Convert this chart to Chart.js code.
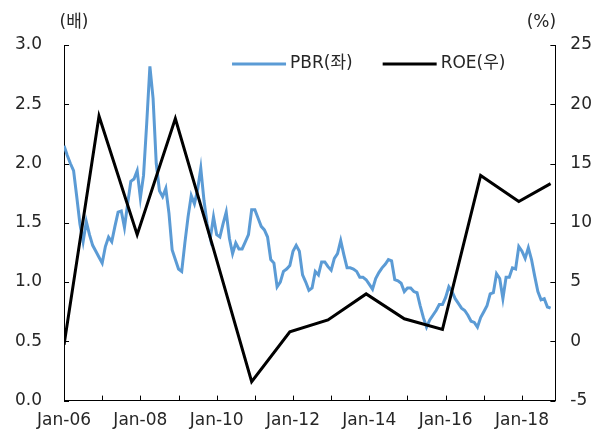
<!DOCTYPE html>
<html>
<head>
<meta charset="utf-8">
<script src="https://cdn.jsdelivr.net/npm/chart.js@4.4.1/dist/chart.umd.min.js"></script>
<style>
  html, body { margin: 0; padding: 0; background: #fff; }
</style>
</head>
<body>
<canvas id="chart" width="596" height="435"></canvas>
<script>
// x = month index, 0 = Jan-06
const pbr = [
  2.15, 2.07, 2.00, 1.94, 1.72, 1.49, 1.34, 1.51, 1.40, 1.31,
  1.26, 1.21, 1.16, 1.30, 1.38, 1.34, 1.47, 1.59, 1.60, 1.46,
  1.66, 1.85, 1.87, 1.94, 1.71, 1.90, 2.34, 2.82, 2.55, 2.00,
  1.77, 1.72, 1.79, 1.58, 1.27, 1.19, 1.11, 1.09, 1.33, 1.55,
  1.73, 1.66, 1.78, 1.96, 1.69, 1.49, 1.37, 1.55, 1.40, 1.38,
  1.49, 1.59, 1.37, 1.24, 1.33, 1.28, 1.28, 1.34, 1.40, 1.61,
  1.61, 1.54, 1.47, 1.44, 1.38, 1.19, 1.16, 0.96, 1.00, 1.09,
  1.11, 1.14, 1.26, 1.31, 1.26, 1.06, 1.00, 0.93, 0.95, 1.09,
  1.06, 1.17, 1.17, 1.13, 1.10, 1.20, 1.24, 1.35, 1.23, 1.12,
  1.12, 1.11, 1.09, 1.04, 1.04, 1.02, 0.98, 0.94, 1.03, 1.08,
  1.12, 1.15, 1.19, 1.18, 1.02, 1.01, 0.99, 0.92, 0.95, 0.95,
  0.92, 0.91, 0.80, 0.70, 0.62, 0.68, 0.72, 0.76, 0.81, 0.81,
  0.87, 0.96, 0.92, 0.86, 0.82, 0.78, 0.76, 0.72, 0.67, 0.66,
  0.62, 0.70, 0.75, 0.80, 0.90, 0.91, 1.07, 1.03, 0.86, 1.04,
  1.04, 1.12, 1.11, 1.30, 1.26, 1.20, 1.29, 1.19, 1.05, 0.92,
  0.85, 0.86, 0.79, 0.78
];

const roeMonths = [0, 11, 23, 35, 47, 59, 71, 83, 95, 107, 119, 131, 143, 153];
const roe = [-0.3, 19.0, 9.0, 18.8, 7.8, -3.4, 0.8, 1.8, 4.0, 1.9, 1.0, 14.0, 11.8, 13.3];

const tickLabels = ['Jan-06', 'Jan-08', 'Jan-10', 'Jan-12', 'Jan-14', 'Jan-16', 'Jan-18'];
const seriesNames = ['PBR(좌)', 'ROE(우)'];
const unitLeft = '(배)';
const unitRight = '(%)';

const FONT = '"DejaVu Sans", "Noto Sans CJK KR", sans-serif';
const TEXT = '#262626';
const BLUE = '#5B9BD5';

// tick marks point into the plot, so draw them here
const innerTicks = {
  id: 'innerTicks',
  afterDraw (chart) {
    const { ctx, chartArea: area, scales } = chart;
    const len = 5;
    ctx.save();
    ctx.strokeStyle = '#000';
    ctx.lineWidth = 1;
    ctx.beginPath();
    scales.x.ticks.forEach(t => {
      const px = Math.round(scales.x.getPixelForValue(t.value)) + 0.5;
      ctx.moveTo(px, area.bottom);
      ctx.lineTo(px, area.bottom - len);
    });
    scales.y.ticks.forEach(t => {
      const py = Math.round(scales.y.getPixelForValue(t.value)) + 0.5;
      ctx.moveTo(area.left, py);
      ctx.lineTo(area.left + len, py);
    });
    scales.y2.ticks.forEach(t => {
      const py = Math.round(scales.y2.getPixelForValue(t.value)) + 0.5;
      ctx.moveTo(area.right, py);
      ctx.lineTo(area.right - len, py);
    });
    ctx.stroke();
    ctx.restore();
  }
};

// unit captions above both axes + legend inside the plot
const captions = {
  id: 'captions',
  afterDraw (chart) {
    const { ctx, chartArea: area } = chart;
    ctx.save();
    ctx.font = '17px ' + FONT;
    ctx.fillStyle = TEXT;
    ctx.textBaseline = 'middle';
    ctx.textAlign = 'center';
    ctx.fillText(unitLeft, area.left + 10, area.top - 22);
    ctx.fillText(unitRight, area.right - 14, area.top - 22);

    const sample = 54, gap = 4, between = 30;
    let x = area.left + 168;
    const y = area.top + 19;
    ctx.textAlign = 'left';
    chart.data.datasets.forEach(ds => {
      ctx.strokeStyle = ds.borderColor;
      ctx.lineWidth = 3;
      ctx.beginPath();
      ctx.moveTo(x, y);
      ctx.lineTo(x + sample, y);
      ctx.stroke();
      x += sample + gap;
      ctx.fillStyle = TEXT;
      ctx.fillText(ds.label, x, y);
      x += ctx.measureText(ds.label).width + between;
    });
    ctx.restore();
  }
};

new Chart(document.getElementById('chart'), {
  type: 'line',
  data: {
    datasets: [
      {
        label: seriesNames[0],
        data: pbr.map((v, i) => ({ x: i, y: v })),
        borderColor: BLUE,
        borderWidth: 3,
        pointRadius: 0,
        tension: 0,
        yAxisID: 'y',
        order: 1
      },
      {
        label: seriesNames[1],
        data: roeMonths.map((m, i) => ({ x: m, y: roe[i] })),
        borderColor: '#000',
        borderWidth: 3,
        pointRadius: 0,
        tension: 0,
        yAxisID: 'y2',
        order: 0
      }
    ]
  },
  options: {
    responsive: false,
    devicePixelRatio: 1,
    animation: false,
    layout: { padding: { top: 45, left: -7, right: -11, bottom: -6 } },
    plugins: {
      legend: { display: false },
      tooltip: { enabled: false }
    },
    scales: {
      x: {
        type: 'linear',
        min: 0,
        max: 154.5,
        grid: { drawOnChartArea: false, drawTicks: false },
        border: { display: true, color: '#000', width: 1 },
        ticks: {
          stepSize: 12,
          includeBounds: false,
          autoSkip: false,
          maxRotation: 0,
          padding: 10,
          color: TEXT,
          font: { family: FONT, size: 17 },
          callback: v => (v % 24 === 0 ? tickLabels[v / 24] : '')
        }
      },
      y: {
        position: 'left',
        min: 0,
        max: 3,
        grid: { drawOnChartArea: false, drawTicks: false },
        border: { display: true, color: '#000', width: 1 },
        ticks: {
          stepSize: 0.5,
          padding: 22,
          color: TEXT,
          font: { family: FONT, size: 17 },
          callback: v => v.toFixed(1)
        }
      },
      y2: {
        position: 'right',
        min: -5,
        max: 25,
        grid: { drawOnChartArea: false, drawTicks: false },
        border: { display: true, color: '#000', width: 1 },
        ticks: {
          stepSize: 5,
          padding: 15,
          color: TEXT,
          font: { family: FONT, size: 17 }
        }
      }
    }
  },
  plugins: [innerTicks, captions]
});
</script>
</body>
</html>
